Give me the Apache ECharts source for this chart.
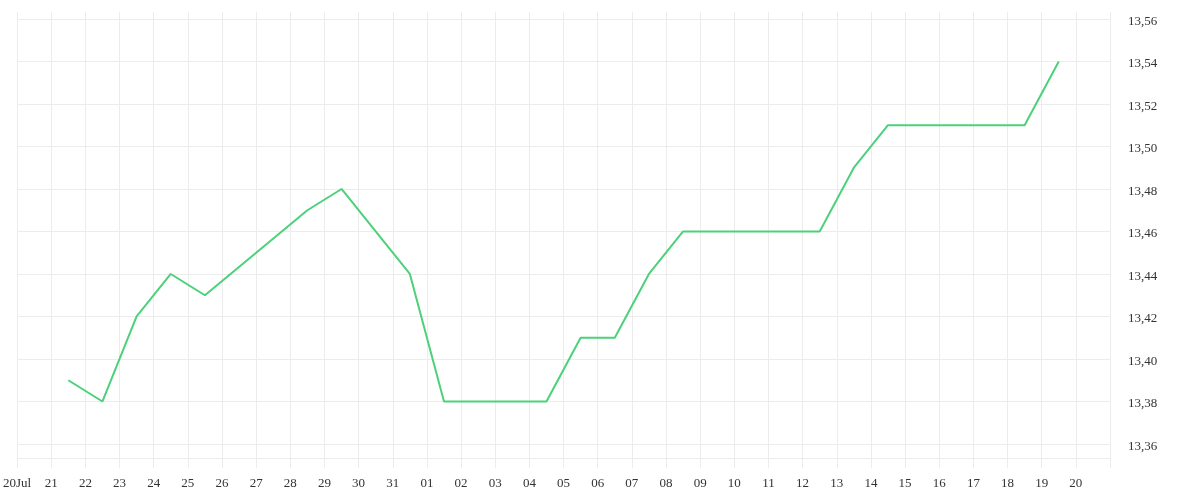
<!DOCTYPE html>
<html>
<head>
<meta charset="utf-8">
<script src="https://cdn.jsdelivr.net/npm/echarts@6/dist/echarts.min.js"></script>
<style>html,body{margin:0;padding:0;background:#fff}#c{width:1200px;height:500px}</style>
</head>
<body>
<div id="c"></div>
<script>
// Data
var startDate = '2019-07-20';
var endDate = '2019-08-21';
var dates = ['2019-07-21','2019-07-22','2019-07-23','2019-07-24','2019-07-25','2019-07-28','2019-07-29','2019-07-31','2019-08-01','2019-08-04','2019-08-05','2019-08-06','2019-08-07','2019-08-08','2019-08-12','2019-08-13','2019-08-14','2019-08-18','2019-08-19'];
var values = [13.39,13.38,13.42,13.44,13.43,13.47,13.48,13.44,13.38,13.38,13.41,13.41,13.44,13.46,13.46,13.49,13.51,13.51,13.54];
var xTickLabels = ['20Jul','21','22','23','24','25','26','27','28','29','30','31','01','02','03','04','05','06','07','08','09','10','11','12','13','14','15','16','17','18','19','20'];
var yTicks = [13.36,13.38,13.40,13.42,13.44,13.46,13.48,13.50,13.52,13.54,13.56];

var DAY = 86400000;
function dayOffset(s){ return (Date.parse(s + 'T00:00:00Z') - Date.parse(startDate + 'T00:00:00Z')) / DAY; }
var points = dates.map(function(d, i){ return [dayOffset(d) + 0.5, values[i]]; });

var gridColor = '#ececec';
var font = 'Liberation Serif';
var textColor = '#333333';
var xMax = dayOffset(endDate);
var chart = echarts.init(document.getElementById('c'), null, {renderer: 'canvas'});
chart.setOption({
  animation: false,
  grid: {left: 15, right: 90, top: 19, bottom: 42, containLabel: false},
  xAxis: [{
    type: 'value',
    min: 0,
    max: xMax,
    interval: 1,
    axisLine: {show: false},
    axisTick: {show: true, inside: false, length: 10, lineStyle: {color: gridColor, width: 1}},
    splitLine: {show: true, lineStyle: {color: gridColor, width: 1}},
    axisLabel: {
      show: true, margin: 19, color: textColor, fontFamily: font, fontSize: 13,
      showMinLabel: true, showMaxLabel: true,
      formatter: function(v){ var i = Math.round(v); return xTickLabels[i] !== undefined ? xTickLabels[i] : ''; }
    }
  }, {
    type: 'value',
    position: 'top',
    min: 0,
    max: xMax,
    interval: 1,
    axisLine: {show: false},
    axisTick: {show: true, inside: false, length: 7, lineStyle: {color: gridColor, width: 1}},
    splitLine: {show: false},
    axisLabel: {show: false}
  }],
  yAxis: {
    type: 'value',
    position: 'right',
    min: 13.3534,
    max: 13.56,
    minInterval: 0.02,
    maxInterval: 0.02,
    splitNumber: 10,
    axisLine: {show: true, lineStyle: {color: gridColor}},
    axisTick: {show: false},
    splitLine: {show: true, lineStyle: {color: gridColor, width: 1}},
    axisLabel: {
      margin: 18, color: textColor, fontFamily: font, fontSize: 13,
      showMinLabel: false, showMaxLabel: true,
      rich: {v: {fontFamily: font, fontSize: 13, color: textColor, padding: [5, 0, 0, 0]}},
      formatter: function(v){
        for (var i = 0; i < yTicks.length; i++) { if (Math.abs(v - yTicks[i]) < 1e-6) return '{v|' + yTicks[i].toFixed(2).replace('.', ',') + '}'; }
        return '';
      }
    }
  },
  series: [{
    type: 'line',
    xAxisIndex: 0,
    data: points,
    symbol: 'none',
    lineStyle: {color: '#4cd17b', width: 2},
    itemStyle: {color: '#4cd17b'}
  }]
});
</script>
</body>
</html>
